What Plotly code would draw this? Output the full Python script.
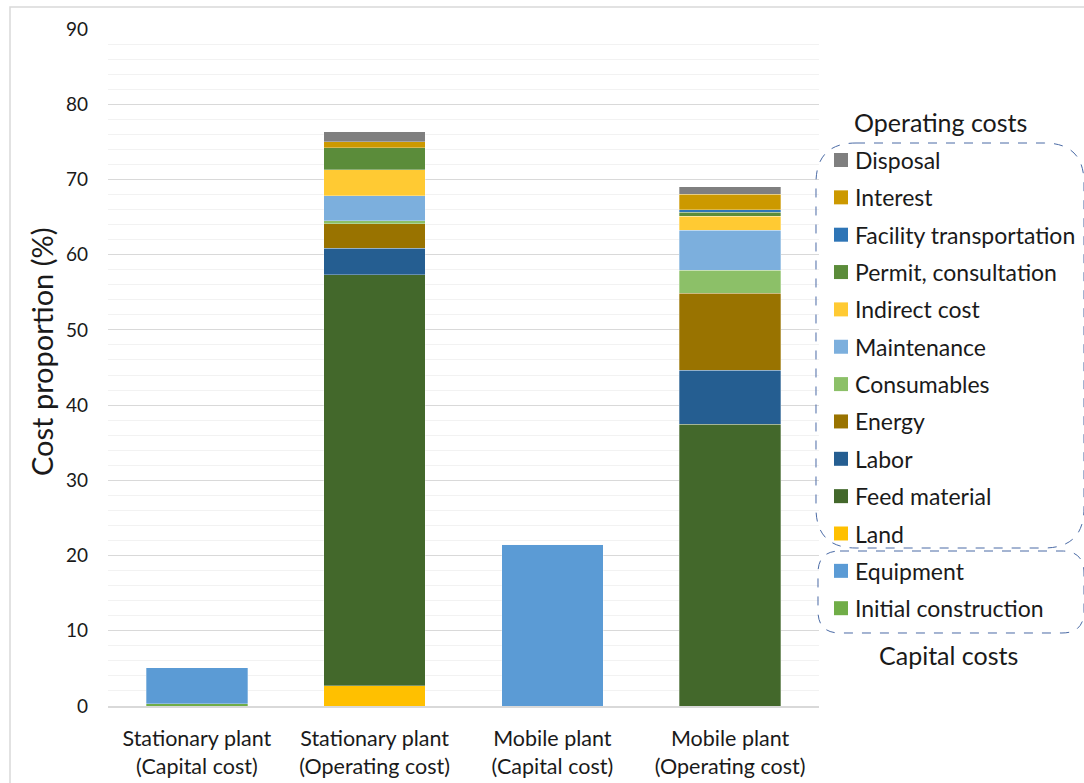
import plotly.graph_objects as go

categories = ["Stationary plant<br>(Capital cost)", "Stationary plant<br>(Operating cost)",
              "Mobile plant<br>(Capital cost)", "Mobile plant<br>(Operating cost)"]

# stacked bottom -> top
series_names = ["Initial construction", "Equipment", "Land", "Feed material", "Labor", "Energy",
                "Consumables", "Maintenance", "Indirect cost", "Permit, consultation",
                "Facility transportation", "Interest", "Disposal"]
initial_construction = [0.3, 0, 0, 0]
equipment = [4.8, 0, 21.5, 0]
land = [0, 2.7, 0, 0]
feed_material = [0, 54.6, 0, 37.45]
labor = [0, 3.55, 0, 7.2]
energy = [0, 3.25, 0, 10.2]
consumables = [0, 0.4, 0, 3.1]
maintenance = [0, 3.3, 0, 5.3]
indirect_cost = [0, 3.5, 0, 1.85]
permit_consultation = [0, 2.9, 0, 0.55]
facility_transportation = [0, 0, 0, 0.3]
interest = [0, 0.8, 0, 2.1]
disposal = [0, 1.37, 0, 0.95]

series_values = [initial_construction, equipment, land, feed_material, labor, energy, consumables,
                 maintenance, indirect_cost, permit_consultation, facility_transportation,
                 interest, disposal]
colors = ["#70AD47", "#5B9BD5", "#FFC000", "#43682B", "#255E91", "#997300", "#8CC068",
          "#7CAFDD", "#FFCA33", "#5B8C3A", "#2E75B6", "#CC9900", "#7F7F7F"]

W, H = 1084, 783
L, R, T, B = 108, 819, 29, 706
FONT = "Lato"
TXT = "#1a1a1a"

fig = go.Figure()
for name, vals, col in zip(series_names, series_values, colors):
    fig.add_trace(go.Bar(x=categories, y=vals, name=name, marker_color=col,
                         marker_line_width=0.6, marker_line_color="rgba(255,255,255,0.5)",
                         showlegend=False))

def px2x(px):
    return (px - L) / (R - L)

def py2y(py):
    return (B - py) / (B - T)

annotations = []
shapes = []

# manual legend (top to bottom = reverse of stacking order)
leg_names = series_names[::-1]
leg_colors = colors[::-1]
y0, step = 160, 37.35
for i, (n, c) in enumerate(zip(leg_names, leg_colors)):
    yc = y0 + i * step
    shapes.append(dict(type="rect", xref="paper", yref="paper",
                       x0=px2x(834), x1=px2x(848), y0=py2y(yc + 7), y1=py2y(yc - 7),
                       fillcolor=c, line_width=0))
    annotations.append(dict(text=n, xref="paper", yref="paper", x=px2x(853), y=py2y(yc),
                            xanchor="left", yanchor="middle", showarrow=False,
                            font=dict(family=FONT, size=23, color=TXT)))

annotations.append(dict(text="Operating costs", xref="paper", yref="paper", x=px2x(940), y=py2y(122),
                        xanchor="center", yanchor="middle", showarrow=False,
                        font=dict(family=FONT, size=25, color=TXT)))
annotations.append(dict(text="Capital costs", xref="paper", yref="paper", x=px2x(948), y=py2y(655),
                        xanchor="center", yanchor="middle", showarrow=False,
                        font=dict(family=FONT, size=25, color=TXT)))
annotations.append(dict(text="Cost proportion (%)", xref="paper", yref="paper", x=px2x(42), y=py2y(352),
                        xanchor="center", yanchor="middle", textangle=-90, showarrow=False,
                        font=dict(family=FONT, size=29, color=TXT)))

def rounded_path(x0, y0_, x1, y1, r):
    def P(x, y):
        return f"{px2x(x):.5f},{py2y(y):.5f}"
    return (f"M {P(x0 + r, y0_)} L {P(x1 - r, y0_)} Q {P(x1, y0_)} {P(x1, y0_ + r)} "
            f"L {P(x1, y1 - r)} Q {P(x1, y1)} {P(x1 - r, y1)} L {P(x0 + r, y1)} "
            f"Q {P(x0, y1)} {P(x0, y1 - r)} L {P(x0, y0_ + r)} Q {P(x0, y0_)} {P(x0 + r, y0_)} Z")

shapes.append(dict(type="path", xref="paper", yref="paper",
                   path=rounded_path(816, 143, 1084, 548, 40),
                   line=dict(color="#4A6AA5", width=1, dash="dash")))
shapes.append(dict(type="path", xref="paper", yref="paper",
                   path=rounded_path(818, 551, 1084, 633, 22),
                   line=dict(color="#4A6AA5", width=1, dash="dash")))
# outer chart frame
shapes.append(dict(type="rect", xref="paper", yref="paper",
                   x0=px2x(10), x1=px2x(1090), y0=py2y(790), y1=py2y(7),
                   line=dict(color="#D9D9D9", width=1.5), layer="below"))

fig.update_layout(
    width=W, height=H,
    margin=dict(l=L, r=W - R, t=T, b=H - B, pad=0, autoexpand=False),
    barmode="stack", bargap=0.43,
    plot_bgcolor="white", paper_bgcolor="white",
    font=dict(family=FONT, size=18, color=TXT),
    xaxis=dict(showgrid=False, showline=True, linecolor="#D9D9D9", linewidth=1.5,
               tickfont=dict(family=FONT, size=21.5, color=TXT), ticks="", fixedrange=True,
               ticklabelstandoff=12, automargin=False),
    yaxis=dict(range=[0, 90], dtick=10, showgrid=True, gridcolor="#D9D9D9", gridwidth=1,
               minor=dict(dtick=2, showgrid=True, gridcolor="#F2F2F2", gridwidth=1),
               zeroline=False, showline=False, ticks="", automargin=False,
               tickfont=dict(family=FONT, size=19, color=TXT), ticklabelstandoff=19),
    annotations=annotations, shapes=shapes, showlegend=False,
)

fig.write_html("out.html")
